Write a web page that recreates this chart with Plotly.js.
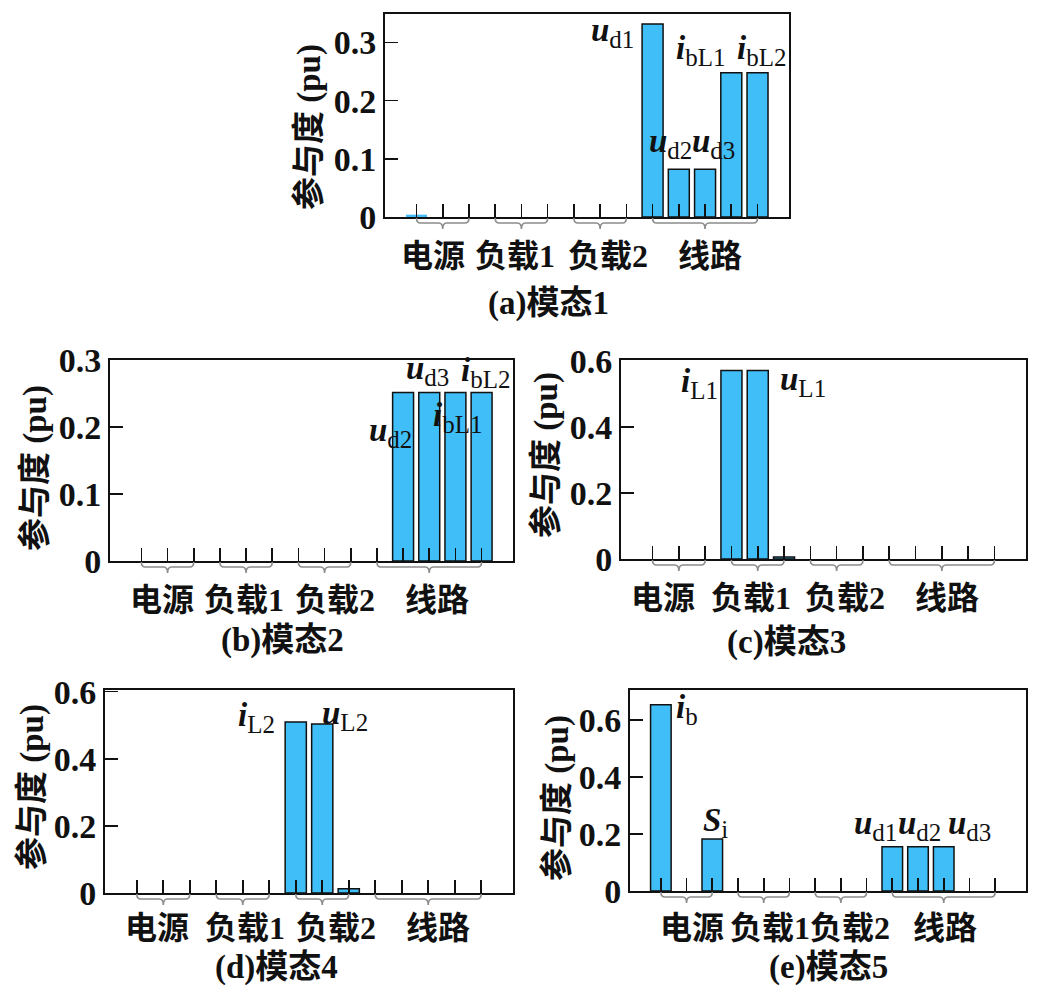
<!DOCTYPE html>
<html><head><meta charset="utf-8">
<script src="https://cdn.plot.ly/plotly-3.0.1.min.js"></script>
<style>html,body{margin:0;padding:0;background:#fff}#chart{width:1048px;height:993px}</style>
</head><body><div id="chart"></div>
<script>
// ---------- data ----------
const variables = ['i_b','u_b','S_i','i_L1','u_L1','S_L1','i_L2','u_L2','S_L2','u_d1','u_d2','u_d3','i_bL1','i_bL2'];
const groupNames = ['电源','负载1','负载2','线路'];
const groupStart = [0, 3, 6, 9];
const groupEnd   = [2, 5, 8, 13];
const mode1 = [0.004, 0, 0, 0, 0, 0, 0, 0, 0, 0.332, 0.082, 0.082, 0.248, 0.248];
const mode2 = [0, 0, 0, 0, 0, 0, 0, 0, 0, 0, 0.252, 0.252, 0.252, 0.252];
const mode3 = [0, 0, 0, 0.570, 0.570, 0.006, 0, 0, 0, 0, 0, 0, 0, 0];
const mode4 = [0, 0, 0, 0, 0, 0, 0.510, 0.504, 0.013, 0, 0, 0, 0, 0];
const mode5 = [0.653, 0, 0.182, 0, 0, 0, 0, 0, 0, 0.155, 0.155, 0.155, 0, 0];
const modeTitles = ['(a)模态1', '(b)模态2', '(c)模态3', '(d)模态4', '(e)模态5'];
const yTitle = '参与度 (pu)';
const yTickSteps = [0.1, 0.1, 0.2, 0.2, 0.2];
const varSymbol = {i_b:['i','b'], S_i:['S','i'], i_L1:['i','L1'], u_L1:['u','L1'], i_L2:['i','L2'], u_L2:['u','L2'],
                   u_d1:['u','d1'], u_d2:['u','d2'], u_d3:['u','d3'], i_bL1:['i','bL1'], i_bL2:['i','bL2']};
const modes = [mode1, mode2, mode3, mode4, mode5];

// ---------- layout config (pixels / placement) ----------
const W = 1048, H = 993;
const XR = [-1.2, 14.2];
const SUBSIZE = 25;
const labelText = v => `<b><i>${varSymbol[v][0]}</i></b><sub><span style="font-size:${SUBSIZE}px">${varSymbol[v][1]}</span></sub>`;
const panels = [
  {box:[385,14,789,217], ymax:0.349, title:[548,303], ytitle:[310,127], gl:[0.62,3.75,7.31,11.2], gshift:39,
   labels:[['u_d1',8.33,0.334,'right','top',12],['u_d2',9.67,0.09,'center','bottom',0],['u_d3',11.31,0.09,'center','bottom',0],
           ['i_bL1',10.81,0.255,'center','bottom',-3],['i_bL2',13.14,0.255,'center','bottom',-3]]},
  {box:[110,360,513,561], ymax:0.3005, title:[282,640], ytitle:[35,468], gl:[0.79,3.92,7.4,11.28], gshift:39,
   labels:[['u_d2',9.52,0.163,'center','bottom',-2],['u_d3',10.93,0.253,'center','bottom',0],
           ['i_bL1',12.06,0.186,'center','bottom',-2],['i_bL2',13.16,0.25,'center','bottom',0]]},
  {box:[621,360,1026,559], ymax:0.602, title:[786,642], ytitle:[547,455], gl:[0.41,3.75,7.31,11.19], gshift:39,
   labels:[['i_L1',2.51,0.564,'right','top',11],['u_L1',4.79,0.565,'left','top',12]]},
  {box:[105,690,513,893], ymax:0.605, title:[276,967], ytitle:[32,787], gl:[0.78,4.09,7.52,11.38], gshift:35,
   labels:[['i_L2',5.27,0.553,'right','top',11],['u_L2',6.97,0.553,'left','top',13]]},
  {box:[630,690,1026,891], ymax:0.705, title:[828,967], ytitle:[557,798], gl:[1.23,4.25,7.37,11.06], gshift:37,
   labels:[['i_b',0.56,0.677,'left','top',10],['S_i',2.13,0.182,'center','bottom',-5],['u_d1',8.34,0.165,'center','bottom',-3],
           ['u_d2',10.05,0.165,'center','bottom',-3],['u_d3',12.0,0.165,'center','bottom',-3]]}
];

const FONT = '"Liberation Serif", "Noto Sans CJK SC", serif';
const idx = variables.map((_, i) => i);
const traces = [];
const layout = {
  width: W, height: H, margin: {l:0, r:0, t:0, b:0},
  paper_bgcolor: '#fff', plot_bgcolor: '#fff', showlegend: false,
  font: {family: FONT, color: '#111'},
  annotations: [], shapes: []
};

panels.forEach((p, k) => {
  const n = k + 1;
  const xa = 'x' + (n === 1 ? '' : n), ya = 'y' + (n === 1 ? '' : n);
  const xk = 'xaxis' + (n === 1 ? '' : n), yk = 'yaxis' + (n === 1 ? '' : n);
  const vals = modes[k];
  traces.push({
    type: 'bar', x: idx, y: vals, xaxis: xa, yaxis: ya, width: 0.8,
    marker: {color: '#3FBEF7', line: {color: '#111', width: vals.map(v => (v < 0.005) ? 0 : 1.5)}},
    hoverinfo: 'skip'
  });
  const [l, t, r, b] = p.box;
  layout[xk] = {
    domain: [l / W, r / W], range: XR, anchor: ya,
    tickmode: 'array', tickvals: idx, showticklabels: false,
    ticks: 'inside', ticklen: 13, tickwidth: 1.6, tickcolor: '#111',
    showline: true, linecolor: '#111', linewidth: 2, mirror: true,
    showgrid: false, zeroline: false, fixedrange: true
  };
  layout[yk] = {
    domain: [1 - b / H, 1 - t / H], range: [0, p.ymax], anchor: xa,
    dtick: yTickSteps[k], tick0: 0,
    ticks: 'inside', ticklen: 13, tickwidth: 1.6, tickcolor: '#111',
    tickfont: {family: FONT, size: 34, weight: 'bold', color: '#111'},
    showline: true, linecolor: '#111', linewidth: 2, mirror: true,
    showgrid: false, zeroline: false, fixedrange: true
  };
  // braces (decoration, drawn in paper coords from the category index scale of this panel)
  const px = i => (l + (i - XR[0]) / (XR[1] - XR[0]) * (r - l)) / W;
  const py = off => 1 - (b + off) / H;
  const d = 4 / W;
  groupStart.forEach((a, g) => {
    const e = groupEnd[g];
    const xa0 = px(a), xe = px(e), xm = (xa0 + xe) / 2;
    layout.shapes.push({
      type: 'path', xref: 'paper', yref: 'paper',
      path: `M ${xa0},${py(1)} Q ${xa0},${py(6)} ${xa0 + d},${py(6)} L ${xm - d},${py(6)} Q ${xm},${py(6)} ${xm},${py(12)} ` +
            `Q ${xm},${py(6)} ${xm + d},${py(6)} L ${xe - d},${py(6)} Q ${xe},${py(6)} ${xe},${py(1)}`,
      line: {color: '#8c8c8c', width: 1.6}, layer: 'above'
    });
    layout.annotations.push({
      text: groupNames[g], xref: xa, yref: ya, x: p.gl[g], y: 0, yshift: -p.gshift,
      xanchor: 'center', yanchor: 'middle', showarrow: false,
      font: {family: FONT, size: 32, weight: 'bold', color: '#111'}
    });
  });
  // bar labels
  p.labels.forEach(([v, x, y, xan, yan, ys]) => {
    layout.annotations.push({
      text: labelText(v), xref: xa, yref: ya, x: x, y: y, xanchor: xan, yanchor: yan, yshift: ys,
      showarrow: false, borderpad: 0,
      font: {family: FONT, size: 33, color: '#111'}
    });
  });
  // panel title
  layout.annotations.push({
    text: modeTitles[k], xref: 'paper', yref: 'paper', x: p.title[0] / W, y: 1 - p.title[1] / H,
    xanchor: 'center', yanchor: 'middle', showarrow: false,
    font: {family: FONT, size: 33, weight: 'bold', color: '#111'}
  });
  // y title
  layout.annotations.push({
    text: yTitle, xref: 'paper', yref: 'paper', x: p.ytitle[0] / W, y: 1 - p.ytitle[1] / H,
    xanchor: 'center', yanchor: 'middle', textangle: -90, showarrow: false,
    font: {family: FONT, size: 33, weight: 'bold', color: '#111'}
  });
});

Plotly.newPlot('chart', traces, layout, {displayModeBar: false, staticPlot: true});
</script>
</body></html>
